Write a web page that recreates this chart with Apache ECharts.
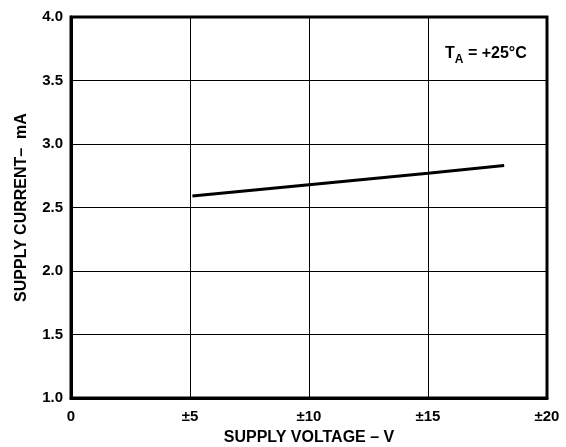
<!DOCTYPE html>
<html>
<head>
<meta charset="utf-8">
<script src="https://cdn.jsdelivr.net/npm/echarts@6/dist/echarts.min.js"></script>
<style>html,body{margin:0;padding:0;background:#fff}#c{width:566px;height:447px}</style>
</head>
<body>
<div id="c"></div>
<script>
var supplyVoltage = [5.1, 10, 15, 18.2];
var supplyCurrent = [2.59, 2.68, 2.77, 2.83];
var xTicks = [0, 5, 10, 15, 20];
var yTicks = [1.0, 1.5, 2.0, 2.5, 3.0, 3.5, 4.0];
var xTitle = 'SUPPLY VOLTAGE \u2013 V';
var yTitle = 'SUPPLY CURRENT\u2013  mA';

var FONT = '"Liberation Sans", Arial, sans-serif';
var chart = echarts.init(document.getElementById('c'), null, {renderer: 'canvas'});
var pts = supplyVoltage.map(function (v, i) { return [v, supplyCurrent[i]]; });
chart.setOption({
  animation: false,
  backgroundColor: '#fff',
  grid: {left: 71, top: 17, right: 19, bottom: 49, outerBoundsMode: 'none', containLabel: false,
    show: true, borderColor: '#000', borderWidth: 3, backgroundColor: 'transparent'},
  xAxis: {
    type: 'value', min: xTicks[0], max: xTicks[xTicks.length - 1], interval: 5,
    axisLine: {show: true, lineStyle: {color: '#000', width: 3}},
    axisTick: {show: false},
    splitLine: {show: true, lineStyle: {color: '#000', width: 1}},
    axisLabel: {color: '#000', fontFamily: FONT, fontWeight: 'bold', fontSize: 15, margin: 11,
      formatter: function (v) { return v === 0 ? '0' : '\u00b1' + v; }},
    name: xTitle, nameLocation: 'middle', nameGap: 32,
    nameTextStyle: {color: '#000', fontFamily: FONT, fontWeight: 'bold', fontSize: 16}
  },
  yAxis: {
    type: 'value', min: yTicks[0], max: yTicks[yTicks.length - 1], interval: 0.5,
    axisLine: {show: true, lineStyle: {color: '#000', width: 3}},
    axisTick: {show: false},
    splitLine: {show: true, lineStyle: {color: '#000', width: 1}},
    axisLabel: {color: '#000', fontFamily: FONT, fontWeight: 'bold', fontSize: 15, margin: 8,
      formatter: function (v) { return v.toFixed(1); }},
    name: yTitle, nameLocation: 'middle', nameGap: 41,
    nameTextStyle: {color: '#000', fontFamily: FONT, fontWeight: 'bold', fontSize: 16}
  },
  graphic: [
    {type: 'text', left: 445, top: 46, z: 10,
      style: {text: '{t|T}{s|A}{t| = +25\u00b0C}', fill: '#000',
        rich: {
          t: {fontFamily: FONT, fontWeight: 'bold', fontSize: 16, fill: '#000', lineHeight: 20, verticalAlign: 'top'},
          s: {fontFamily: FONT, fontWeight: 'bold', fontSize: 12, fill: '#000', lineHeight: 20, verticalAlign: 'top', padding: [8, 0, 0, 0]}
        }}}
  ],
  series: [{
    type: 'line', data: pts, showSymbol: false, symbol: 'none',
    lineStyle: {color: '#000', width: 3}, z: 5
  }]
});
</script>
</body>
</html>
